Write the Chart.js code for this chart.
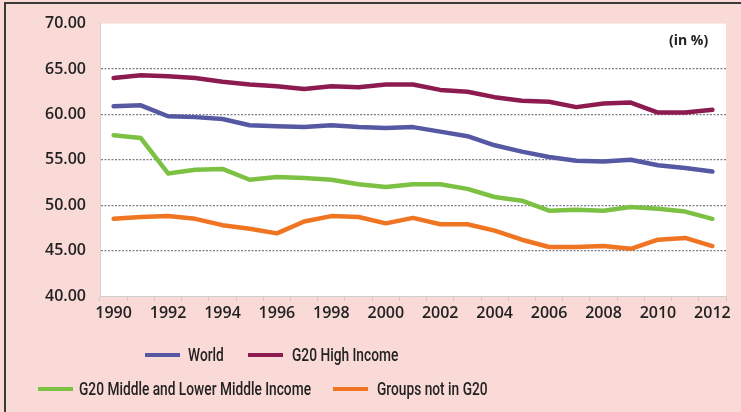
<!DOCTYPE html>
<html>
<head>
<meta charset="utf-8">
<script src="https://cdn.jsdelivr.net/npm/chart.js@4.4.1/dist/chart.umd.min.js"></script>
<style>
  body { margin: 0; background: #f9dad6; }
  #wrap { position: relative; width: 741px; height: 412px; overflow: hidden; }
  #frame { position: absolute; left: 4px; top: 2px; right: 0; bottom: 0;
           border-top: 2px solid #3a3a3a; border-left: 2px solid #3a3a3a; pointer-events: none; }
  canvas { position: absolute; left: 0; top: 0; }
  #unit { position: absolute; top: 30px; left: 669px; font: bold 14px "Open Sans", sans-serif; color: #222; }
  .leg { position: absolute; height: 24px; line-height: 24px; white-space: nowrap; }
  .leg .sw { position: absolute; left: 0; top: 10px; width: 35px; height: 4px; }
  .leg .tx { position: absolute; display: inline-block; transform-origin: left center;
             font: 500 19px Roboto, sans-serif; color: #222; }
</style>
</head>
<body>
<div id="wrap">
  <canvas id="chart" width="741" height="412"></canvas>
  <div id="unit">(in %)</div>
  <div id="legend"></div>
  <div id="frame"></div>
</div>
<script>
// data
const years = ["1990", "1991", "1992", "1993", "1994", "1995", "1996", "1997", "1998", "1999", "2000",
               "2001", "2002", "2003", "2004", "2005", "2006", "2007", "2008", "2009", "2010", "2011", "2012"];
const world   = [60.9, 61.0, 59.8, 59.7, 59.5, 58.8, 58.7, 58.6, 58.8, 58.6, 58.5,
                 58.6, 58.1, 57.6, 56.6, 55.9, 55.3, 54.9, 54.8, 55.0, 54.4, 54.1, 53.7];
const g20High = [64.0, 64.3, 64.2, 64.0, 63.6, 63.3, 63.1, 62.8, 63.1, 63.0, 63.3,
                 63.3, 62.7, 62.5, 61.9, 61.5, 61.4, 60.8, 61.2, 61.3, 60.2, 60.2, 60.5];
const g20Mid  = [57.7, 57.4, 53.5, 53.9, 54.0, 52.8, 53.1, 53.0, 52.8, 52.3, 52.0,
                 52.3, 52.3, 51.8, 50.9, 50.5, 49.4, 49.5, 49.4, 49.8, 49.6, 49.3, 48.5];
const notG20  = [48.5, 48.7, 48.8, 48.5, 47.8, 47.4, 46.9, 48.2, 48.8, 48.7, 48.0,
                 48.6, 47.9, 47.9, 47.2, 46.2, 45.4, 45.4, 45.5, 45.2, 46.2, 46.4, 45.5];
const seriesNames = ["World", "G20 High Income", "G20 Middle and Lower Middle Income", "Groups not in G20"];
const seriesData = [world, g20High, g20Mid, notG20];
const yMin = 40, yMax = 70, yStep = 5;

const seriesColors = ["#5658a3", "#8c1b50", "#7cc143", "#ef7522"];
// legend placement: swatch left, text left, top (px)
const legendSpots = [[145, 188, 343], [248, 292, 343], [38, 79, 377], [333, 377, 377]];
const longestLegendWidth = 232; // width of the longest legend text in the picture

const plotBg = {
  id: "plotBg",
  beforeDraw(chart) {
    const { ctx, chartArea: a } = chart;
    ctx.save();
    ctx.fillStyle = "#ffffff";
    ctx.fillRect(a.left, a.top, a.right - a.left, a.bottom - a.top);
    ctx.restore();
  }
};

new Chart(document.getElementById("chart"), {
  type: "line",
  data: {
    labels: years,
    datasets: seriesNames.map((name, i) => ({
      label: name,
      data: seriesData[i],
      borderColor: seriesColors[i],
      backgroundColor: seriesColors[i],
      borderWidth: 4.5,
      pointRadius: 0,
      tension: 0,
      borderJoinStyle: "round",
      borderCapStyle: "round"
    }))
  },
  options: {
    responsive: false,
    animation: false,
    devicePixelRatio: 1,
    layout: { padding: { left: 0, right: 15, top: 23, bottom: 0 } },
    plugins: { legend: { display: false }, tooltip: { enabled: false } },
    scales: {
      x: {
        type: "category",
        offset: true,
        afterFit: (s) => { s.height = 116; },
        grid: { offset: true, drawOnChartArea: false, tickLength: 5, color: "#c9c9c9" },
        border: { color: "#cfcfcf" },
        ticks: {
          autoSkip: false,
          maxRotation: 0,
          padding: 3,
          color: "#222",
          font: { family: "Open Sans", size: 16, weight: "600" },
          callback: (v, i) => (i % 2 === 0 ? years[i] : "")
        }
      },
      y: {
        min: yMin,
        max: yMax,
        afterFit: (s) => { s.width = 100; },
        grid: {
          drawTicks: false,
          lineWidth: 1.3,
          color: (c) => (c.tick.value === yMin || c.tick.value === yMax ? "rgba(0,0,0,0)" : "#7d7d8c")
        },
        border: { color: "#d3d3d3", dash: [2, 1.5] },
        ticks: {
          stepSize: yStep,
          padding: 14,
          color: "#222",
          font: { family: "Open Sans", size: 16, weight: "600" },
          callback: (v) => v.toFixed(2)
        }
      }
    }
  },
  plugins: [plotBg]
});

// legend built from the series
const legend = document.getElementById("legend");
const texts = [];
seriesNames.forEach((name, i) => {
  const el = document.createElement("div");
  el.className = "leg";
  el.style.left = legendSpots[i][0] + "px";
  el.style.top = legendSpots[i][2] + "px";
  const sw = document.createElement("span");
  sw.className = "sw";
  sw.style.background = seriesColors[i];
  const tx = document.createElement("span");
  tx.className = "tx";
  tx.style.left = (legendSpots[i][1] - legendSpots[i][0]) + "px";
  tx.textContent = name;
  el.appendChild(sw);
  el.appendChild(tx);
  legend.appendChild(el);
  texts.push(tx);
});
// condense the text the way the original typeface does
const widest = Math.max(...texts.map((t) => t.getBoundingClientRect().width));
const squeeze = longestLegendWidth / widest;
texts.forEach((t) => { t.style.transform = "scaleX(" + squeeze + ")"; });
</script>
</body>
</html>
